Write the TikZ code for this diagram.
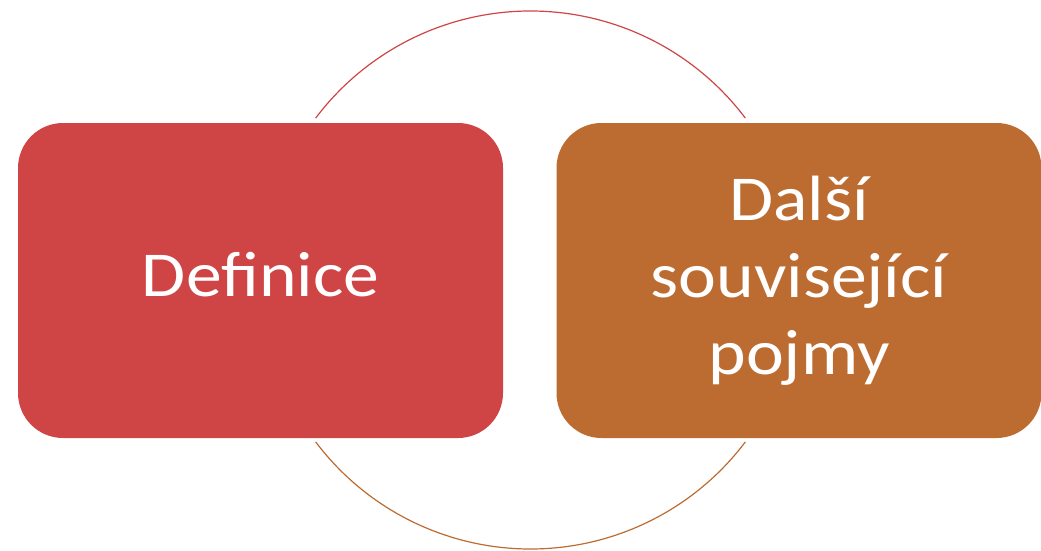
\documentclass[tikz,border=0pt]{standalone}
\usepackage{fontspec}
\setmainfont{Carlito}[FakeStretch=1.12]
\usetikzlibrary{positioning}
\definecolor{boxred}{HTML}{CF4545}
\definecolor{boxorange}{HTML}{BC6C31}

\begin{document}
\begin{tikzpicture}[x=1pt, y=-1pt,
    termbox/.style={rounded corners=45pt, minimum width=485pt, minimum height=315pt,
        text=white, align=center, inner sep=0pt,
        font=\fontsize{64}{77}\selectfont}]
    \useasboundingbox (0,0) rectangle (1041,551);

    % Circle behind the boxes (y axis points down)
    \coordinate (c) at (530.5,280);
    \draw[boxred, line width=1.2pt] (c) ++(-143:269) arc (-143:-37:269);
    \draw[boxorange, line width=1.2pt] (c) ++(143:269) arc (143:37:269);

    % Boxes
    \node[termbox, fill=boxred] (def) at (260.5,280.5) {};
    \node[termbox, fill=boxorange] (rel) at (799,280.5) {Další\\související\\pojmy};

    % Label of the left box sits a bit higher
    \node[text=white, inner sep=0pt, font=\fontsize{64}{77}\selectfont]
        (deflabel) at ([yshift=6pt]def.center) {Definice};
\end{tikzpicture}
\end{document}
